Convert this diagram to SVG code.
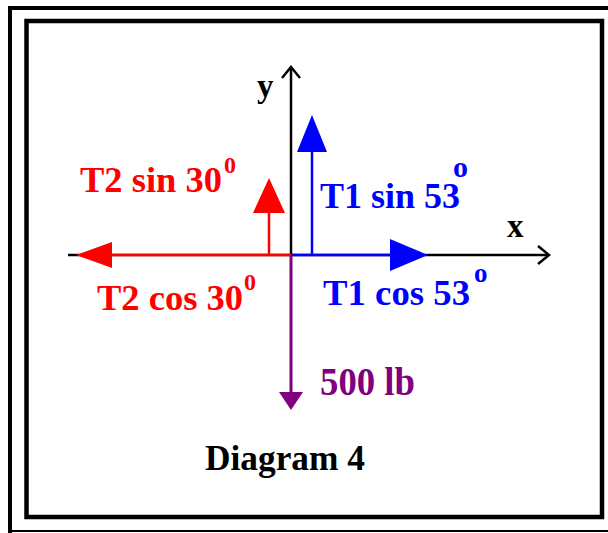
<svg xmlns="http://www.w3.org/2000/svg" width="608" height="533" viewBox="0 0 608 533">
<style>
.t{font-family:"Liberation Serif","Times New Roman",serif;font-weight:bold}
.red{fill:#ff0000}.blue{fill:#0000ff}.pur{fill:#800080}.blk{fill:#000}
.lr{stroke:#ff0000;stroke-width:2.5;fill:none}
.lb{stroke:#0000ff;stroke-width:2.5;fill:none}
.lp{stroke:#800080;stroke-width:3;fill:none}
.ax{stroke:#000;stroke-width:2.5;fill:none}
</style>
<rect x="0" y="0" width="608" height="533" fill="#fff"/>
<g id="frame" fill="none" stroke="#000">
<path d="M10 533 V8 H608" stroke-width="4"/>
<path d="M10 531 H608" stroke-width="2"/>
<rect x="26.5" y="21" width="575.5" height="496" stroke-width="4.5"/>
</g>
<g id="connectors">
<g id="axes">
<path class="ax" d="M291 255 V67"/>
<path class="ax" d="M282 78 L291 67 L300 78"/>
<path class="ax" d="M68 255 H549"/>
<path class="ax" d="M538 246 L549 255 L538 264"/>
</g>
<g id="t2cos">
<path class="lr" d="M291 255 H110"/>
<polygon class="red" points="76,255 112,242 112,268"/>
</g>
<g id="t2sin">
<path class="lr" d="M269 255 V211"/>
<polygon class="red" points="269,178 253,213 285,213"/>
</g>
<g id="t1sin">
<path class="lb" d="M312 255 V150"/>
<polygon class="blue" points="312,115 297,152 327,152"/>
</g>
<g id="t1cos">
<path class="lb" d="M291 255 H392"/>
<polygon class="blue" points="428,255 390,239 390,271"/>
</g>
<g id="weight">
<path class="lp" d="M291 256 V394"/>
<polygon class="pur" points="291,410 279,392 303,392"/>
</g>
</g>
<g id="label-y"><text class="t blk" x="257" y="97" font-size="33">y</text></g>
<g id="label-x"><text class="t blk" x="507" y="237" font-size="33">x</text></g>
<g id="label-t2sin">
<text class="t red" x="80" y="192" font-size="36" textLength="142" lengthAdjust="spacingAndGlyphs">T2 sin 30</text>
<text class="t red" x="224" y="173" font-size="24">0</text>
</g>
<g id="label-t2cos">
<text class="t red" x="97" y="310" font-size="36" textLength="146" lengthAdjust="spacingAndGlyphs">T2 cos 30</text>
<text class="t red" x="244" y="290" font-size="24">0</text>
</g>
<g id="label-t1sin">
<text class="t blue" x="320" y="208" font-size="36" textLength="140" lengthAdjust="spacingAndGlyphs">T1 sin 53</text>
<text class="t blue" x="453" y="177" font-size="30">o</text>
</g>
<g id="label-t1cos">
<text class="t blue" x="323" y="305" font-size="36" textLength="147" lengthAdjust="spacingAndGlyphs">T1 cos 53</text>
<text class="t blue" x="474" y="282" font-size="27">o</text>
</g>
<g id="label-weight"><text class="t pur" x="320" y="395" font-size="39" textLength="95" lengthAdjust="spacingAndGlyphs">500 lb</text></g>
<g id="title"><text class="t blk" x="205" y="470" font-size="35" textLength="160" lengthAdjust="spacingAndGlyphs">Diagram 4</text></g>
</svg>
